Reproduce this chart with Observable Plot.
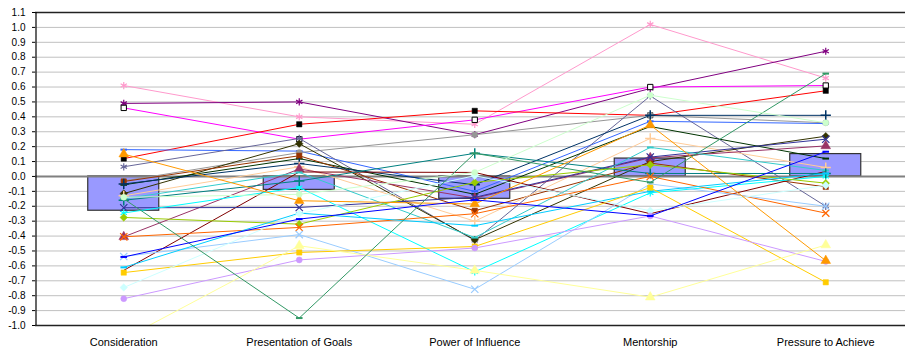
<!DOCTYPE html>
<html>
<head>
<meta charset="utf-8">
<script src="https://cdn.jsdelivr.net/npm/d3@7"></script>
<script src="https://cdn.jsdelivr.net/npm/@observablehq/plot@0.6"></script>
<style>
  html, body { margin: 0; padding: 0; background: #fff; }
  #chart { width: 905px; height: 349px; overflow: hidden; }
</style>
</head>
<body>
<div id="chart"></div>
<script>
// Dimensions of the survey
const categories = ["Consideration", "Presentation of Goals", "Power of Influence", "Mentorship", "Pressure to Achieve"];

// Group average per dimension (bars)
const average = [-0.23, -0.09, -0.15, 0.12, 0.15];

// Individual respondent scores per dimension (lines)
const r01 = [0.61, 0.40, 0.35, 1.02, 0.66];
const r02 = [0.49, 0.50, 0.28, 0.59, 0.84];
const r03 = [0.46, 0.25, 0.38, 0.60, 0.61];
const r04 = [0.12, 0.35, 0.44, 0.41, 0.575];
const r05 = [0.18, 0.17, -0.10, 0.37, 0.355];
const r06 = [-0.03, 0.16, 0.28, 0.41, 0.36];
const r07 = [0.065, 0.255, -0.43, 0.54, -0.20];
const r08 = [-0.115, 0.22, -0.425, 0.10, 0.27];
const r09 = [-0.056, 0.12, -0.12, 0.335, 0.12];
const r10 = [-0.034, 0.139, -0.23, 0.09, -0.07];
const r11 = [-0.05, 0.087, -0.056, 0.41, 0.41];
const r12 = [-0.13, 0.065, -0.30, 0.255, 0.06];
const r13 = [-0.405, 0.05, -0.145, 0.125, 0.205];
const r14 = [-0.63, 0.03, 0.027, -0.25, 0.034];
const r15 = [-0.21, -0.208, -0.14, 0.13, 0.25];
const r16 = [-0.245, -0.074, -0.64, -0.11, 0.0];
const r17 = [-0.15, 0.027, -0.41, 0.195, 0.04];
const r18 = [-0.16, -0.03, 0.155, 0.02, 0.02];
const r19 = [-0.275, -0.32, -0.04, 0.078, -0.045];
const r20 = [-0.405, -0.342, -0.25, 0.0, -0.246];
const r21 = [-0.537, -0.39, -0.757, -0.05, -0.20];
const r22 = [-0.61, -0.246, -0.33, -0.10, 0.02];
const r23 = [-0.645, -0.51, -0.47, -0.075, -0.71];
const r24 = [-0.745, -0.25, 0.005, -0.23, -0.06];
const r25 = [-0.82, -0.56, -0.48, -0.265, -0.57];
const r26 = [-1.09, -0.465, -0.63, -0.81, -0.46];
const r27 = [-0.15, -0.95, 0.155, -0.04, 0.69];
const r28 = [0.15, -0.163, -0.185, 0.345, -0.565];
const r29 = [-0.14, -0.12, 0.027, 0.545, 0.36];
const r30 = [-0.54, -0.286, -0.157, -0.265, 0.166];

const respondents = [r01, r02, r03, r04, r05, r06, r07, r08, r09, r10,
                     r11, r12, r13, r14, r15, r16, r17, r18, r19, r20,
                     r21, r22, r23, r24, r25, r26, r27, r28, r29, r30];

// y axis tick values
const yTicks = d3.range(-10, 12).map(k => k / 10);

// Line colours and marker styles, one per respondent
const lineColors = ["#FF99CC", "#800080", "#FF00FF", "#FF0000", "#3366FF", "#969696", "#666699", "#333300", "#003300", "#993300",
                    "#003366", "#FFCC99", "#993366", "#800000", "#333399", "#00FFFF", "#33CCCC", "#008080", "#99CC00", "#FF6600",
                    "#99CCFF", "#00CCFF", "#FFCC00", "#CCFFFF", "#CC99FF", "#FFFF99", "#339966", "#FF9900", "#CCFFCC", "#0000FF"];
const markerKinds = ["asterisk", "asterisk", "openSquare", "blackSquare", "dash", "circle", "asterisk", "diamond", "dash", "square",
                     "plus", "plus", "triangle", "none", "times", "asterisk", "dash", "plus", "diamond", "times",
                     "times", "dash", "square", "diamond", "circle", "triangle", "dash", "triangle", "circle", "dash"];

// Short horizontal dash marker
const dashSymbol = {
  draw(context, size) {
    const r = Math.sqrt(size / Math.PI) * 1.1;
    context.moveTo(-r, 0);
    context.lineTo(r, 0);
  }
};

function markerOptions(kind, color) {
  switch (kind) {
    case "asterisk": return {symbol: "asterisk", r: 3.4, fill: "none", stroke: color, strokeWidth: 1.2};
    case "times": return {symbol: "times", r: 3.4, fill: "none", stroke: color, strokeWidth: 1.2};
    case "plus": return {symbol: "plus", r: 3.4, fill: "none", stroke: color, strokeWidth: 1.5};
    case "dash": return {symbol: dashSymbol, r: 3, fill: "none", stroke: color, strokeWidth: 2};
    case "openSquare": return {symbol: "square", r: 3, fill: "white", stroke: "black", strokeWidth: 1};
    case "blackSquare": return {symbol: "square", r: 3, fill: "black", stroke: "black", strokeWidth: 0.5};
    case "square": return {symbol: "square", r: 3, fill: color, stroke: color, strokeWidth: 0.5};
    case "diamond": return {symbol: "diamond2", r: 3.4, fill: color, stroke: color, strokeWidth: 0.5};
    case "triangle": return {symbol: "triangle", r: 3.6, fill: color, stroke: color, strokeWidth: 0.5};
    case "circle": return {symbol: "circle", r: 3, fill: color, stroke: color, strokeWidth: 0.5};
    default: return null;
  }
}

const barHalf = 0.2023;

const seriesMarks = respondents.flatMap((values, k) => {
  const rows = values.map((v, i) => ({i, v}));
  const color = lineColors[k];
  const marks = [Plot.line(rows, {x: "i", y: "v", stroke: color, strokeWidth: 1, clip: true})];
  const m = markerOptions(markerKinds[k], color);
  if (m) marks.push(Plot.dot(rows, {x: "i", y: "v", clip: true, ...m}));
  return marks;
});

const chart = Plot.plot({
  width: 905,
  height: 349,
  marginLeft: 35,
  marginRight: 0,
  marginTop: 12,
  marginBottom: 24,
  x: {domain: [-0.5, 4.5], range: [35.5, 913]},
  y: {domain: [-1, 1.1]},
  style: {fontFamily: "'Liberation Sans', Arial, sans-serif", background: "white", color: "black"},
  marks: [
    Plot.ruleY(yTicks, {stroke: "#c0c0c0", strokeWidth: 1}),
    Plot.rect(average, {
      x1: (d, i) => i - barHalf,
      x2: (d, i) => i + barHalf,
      y1: 0,
      y2: d => d,
      fill: "#9999FF",
      stroke: "#333333",
      strokeWidth: 1.2
    }),
    Plot.ruleY([0], {stroke: "#808080", strokeWidth: 2}),
    ...seriesMarks,
    Plot.ruleY([1.1, -1.0], {stroke: "#222", strokeWidth: 1.5}),
    Plot.ruleX([-0.5], {stroke: "black", strokeWidth: 1.2}),
    Plot.axisY({ticks: yTicks, tickFormat: d => d.toFixed(1), tickSize: 3, tickPadding: 7, fontSize: 10, label: null}),
    Plot.axisX({ticks: [0, 1, 2, 3, 4], tickFormat: i => categories[i], tickSize: 0, tickPadding: 13, fontSize: 11, label: null})
  ]
});

document.getElementById("chart").appendChild(chart);
</script>
</body>
</html>
